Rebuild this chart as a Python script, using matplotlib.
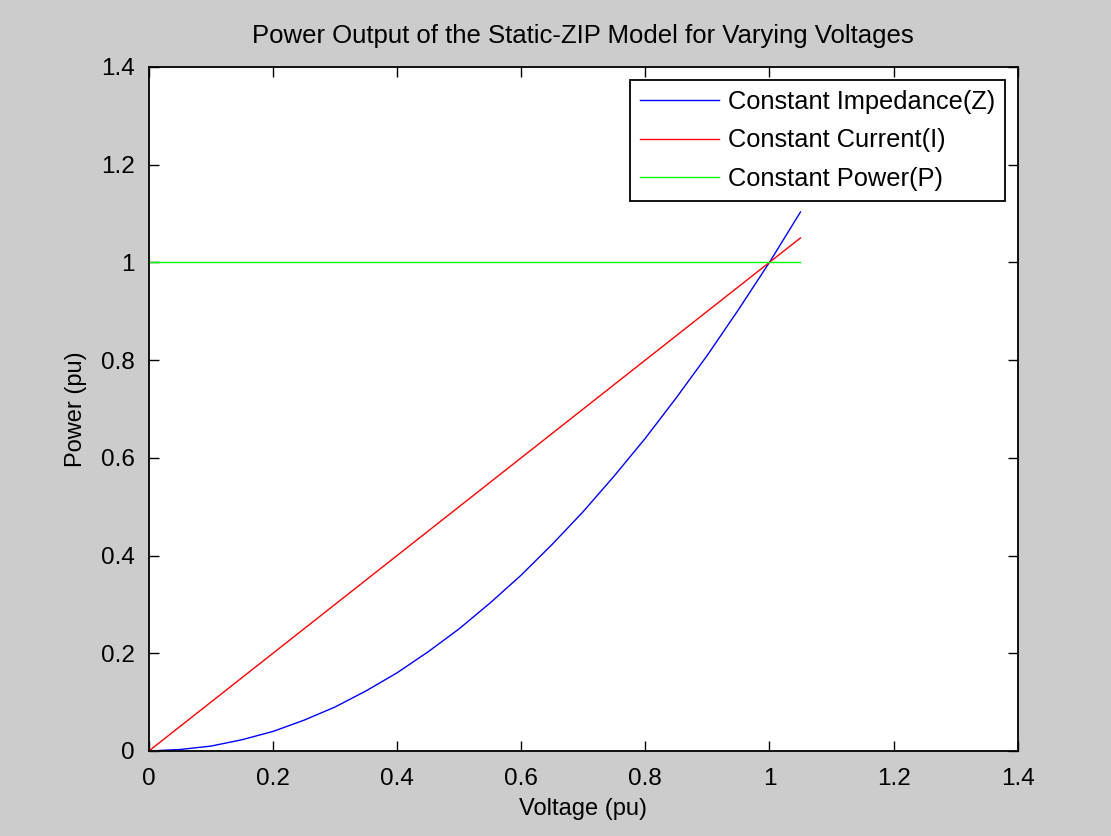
import matplotlib
matplotlib.use("Agg")
import matplotlib.pyplot as plt

# voltage (pu) and power
voltage = [0.00, 0.05, 0.10, 0.15, 0.20, 0.25, 0.30, 0.35, 0.40, 0.45, 0.50,
           0.55, 0.60, 0.65, 0.70, 0.75, 0.80, 0.85, 0.90, 0.95, 1.00, 1.05]
p_impedance = [0.000, 0.003, 0.010, 0.023, 0.040, 0.063, 0.090, 0.123, 0.160,
               0.203, 0.250, 0.303, 0.360, 0.423, 0.490, 0.563, 0.640, 0.723,
               0.810, 0.903, 1.000, 1.103]
p_current = [0.00, 0.05, 0.10, 0.15, 0.20, 0.25, 0.30, 0.35, 0.40, 0.45, 0.50,
             0.55, 0.60, 0.65, 0.70, 0.75, 0.80, 0.85, 0.90, 0.95, 1.00, 1.05]
p_power = [1.0] * len(voltage)

labels = ["Constant Impedance(Z)", "Constant Current(I)", "Constant Power(P)"]
ticks = [0, 0.2, 0.4, 0.6, 0.8, 1, 1.2, 1.4]
tick_labels = ["0", "0.2", "0.4", "0.6", "0.8", "1", "1.2", "1.4"]

plt.rcParams["font.family"] = ["Liberation Sans", "DejaVu Sans"]

fig = plt.figure(figsize=(11.11, 8.36), dpi=100, facecolor="#cccccc")
ax = fig.add_axes([0.134, 0.1017, 0.782, 0.8183])

ax.plot(voltage, p_impedance, color="#0000ff", lw=1, label=labels[0])
ax.plot(voltage, p_current, color="#ff0000", lw=1, label=labels[1])
ax.plot(voltage, p_power, color="#00ff00", lw=1, label=labels[2])

ax.set_xlim(0, 1.4)
ax.set_ylim(0, 1.4)
ax.set_xticks(ticks, tick_labels)
ax.set_yticks(ticks, tick_labels)
ax.tick_params(direction="in", top=True, right=True, length=7, width=1,
               labelsize=17.5, colors="black")
ax.tick_params(axis="x", pad=12)
ax.tick_params(axis="y", pad=10)
for s in ax.spines.values():
    s.set_linewidth(1.3)

ax.set_title("Power Output of the Static-ZIP Model for Varying Voltages",
             fontsize=18.5, pad=17)
ax.set_xlabel("Voltage (pu)", fontsize=17, labelpad=6)
ax.set_ylabel("Power (pu)", fontsize=17, labelpad=10)

leg = ax.legend(loc="upper right", fontsize=18.3, fancybox=False,
                framealpha=1, edgecolor="black", handlelength=3.1,
                handletextpad=0.35, borderpad=0.4,
                borderaxespad=0.5, labelspacing=0.58)
leg.get_frame().set_linewidth(1.3)

fig.savefig("out.png", dpi=100, facecolor=fig.get_facecolor())
